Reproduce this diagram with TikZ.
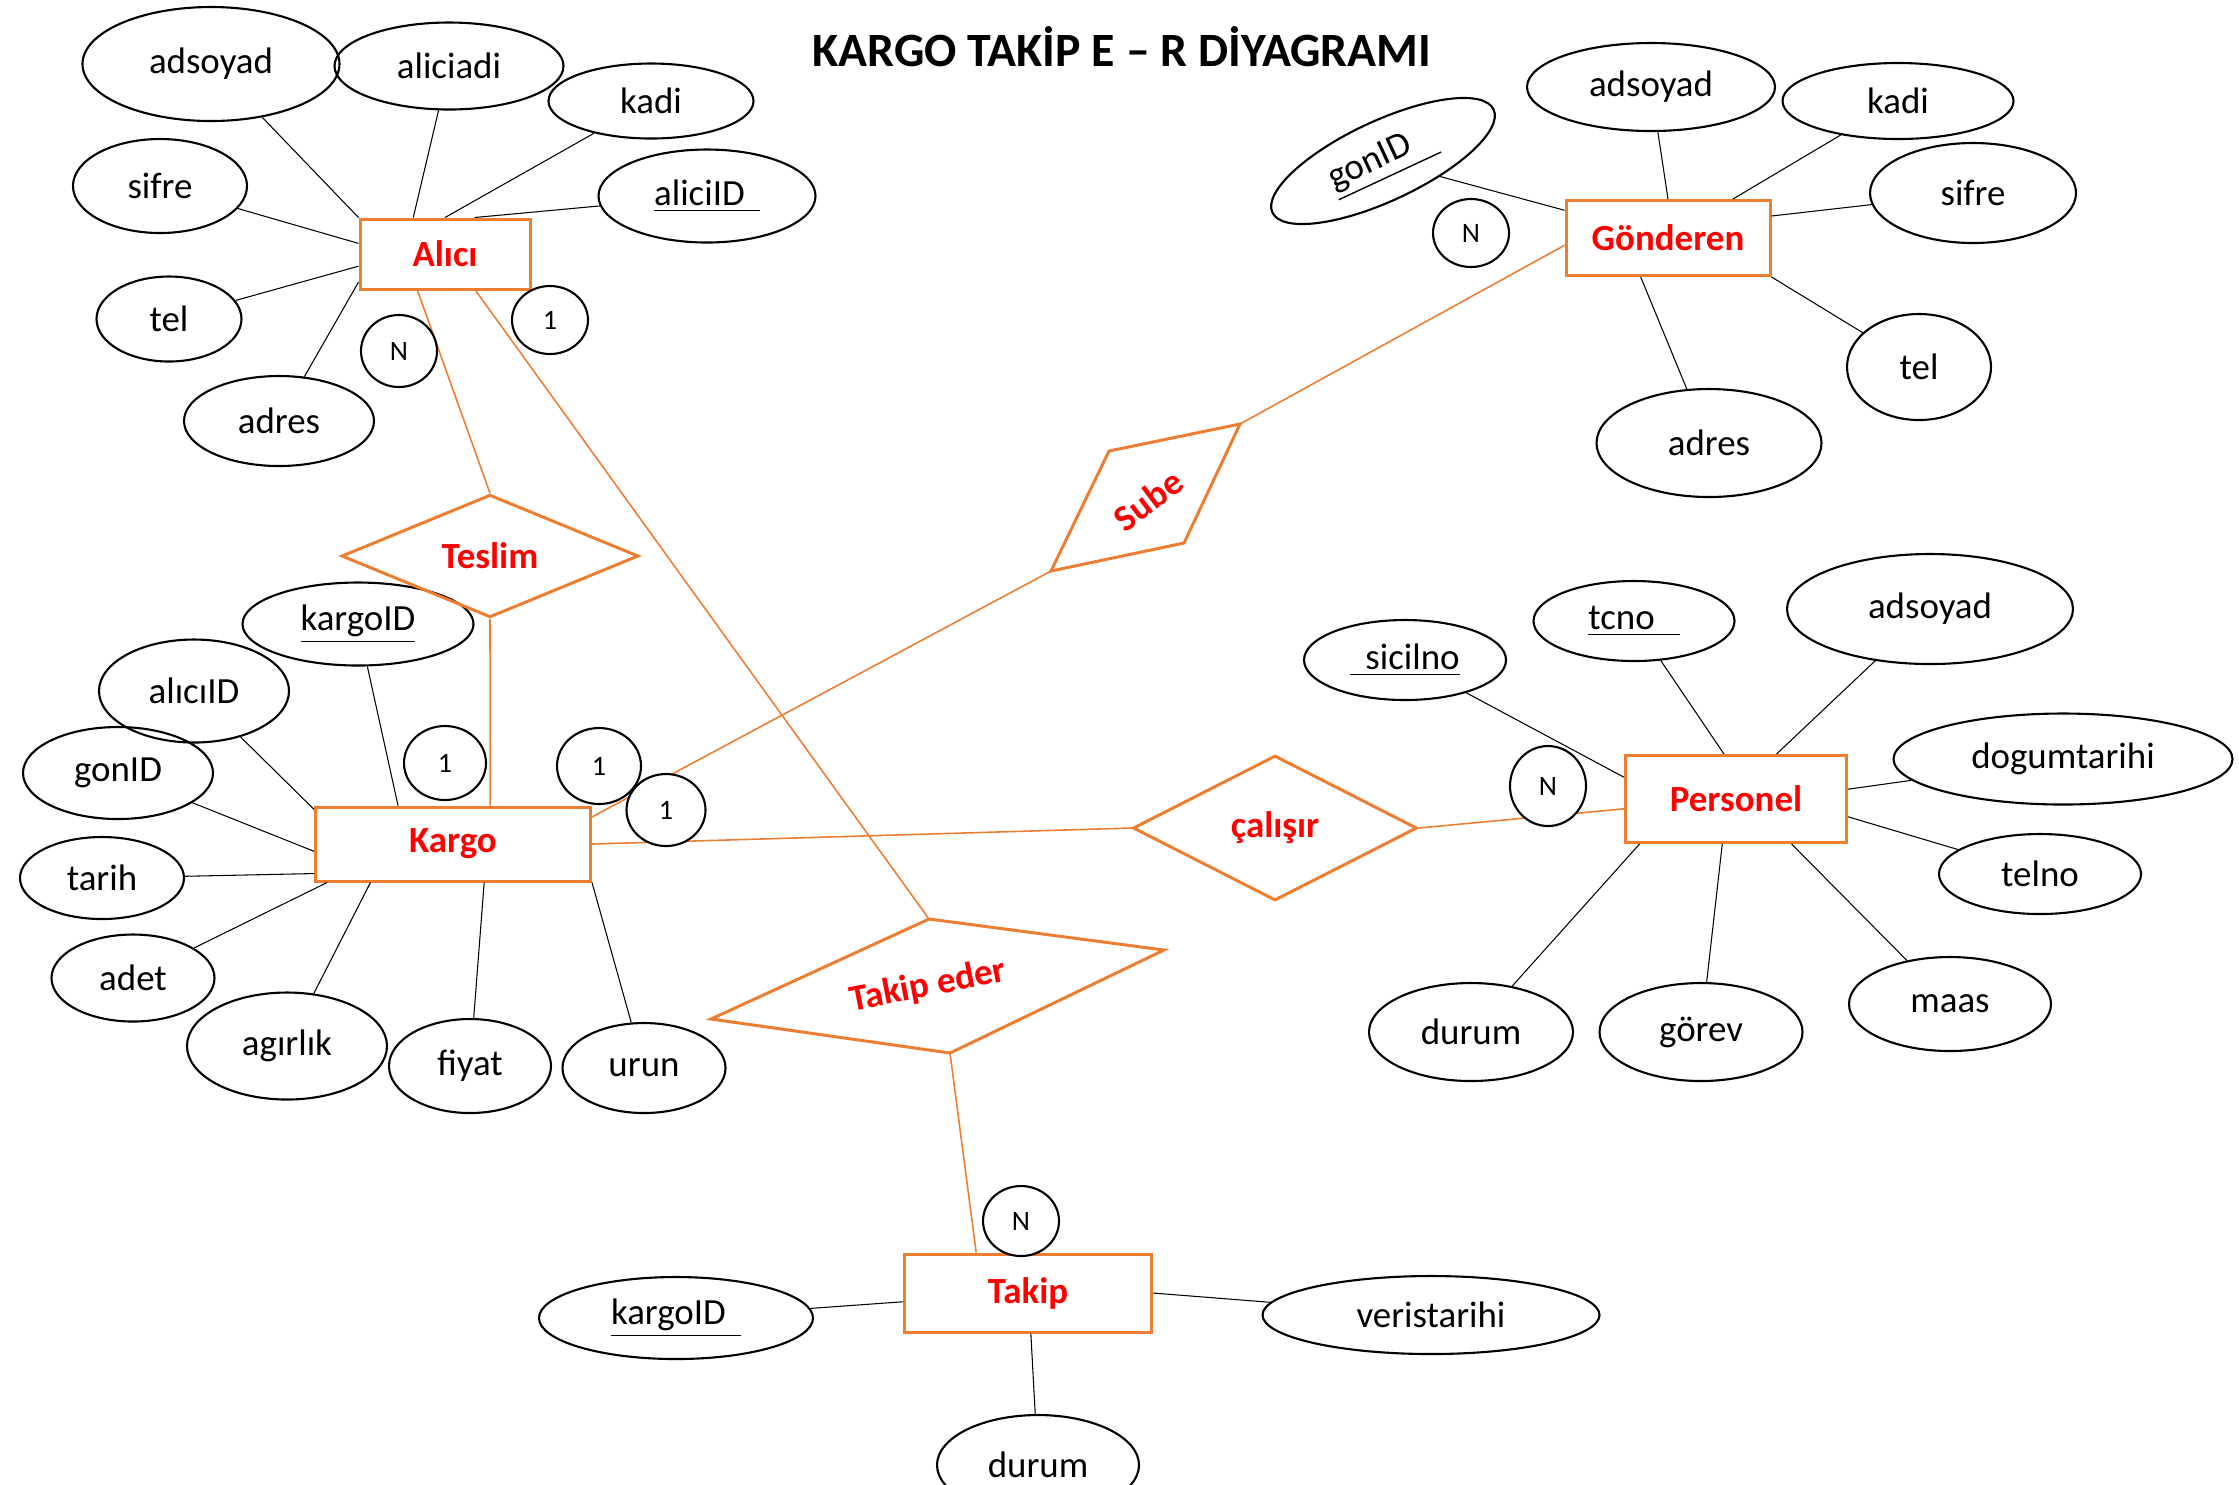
\documentclass[tikz,border=0pt]{standalone}
\usepackage{fontspec}
\setmainfont{Carlito}
\usetikzlibrary{shapes.geometric}
\definecolor{erorange}{HTML}{ED7D31}
\definecolor{erred}{HTML}{FF0000}
\newcommand{\erfont}{\fontsize{10.5}{12.6}\selectfont}

\begin{document}
\begin{tikzpicture}[x=0.1mm, y=-0.1mm,
  att/.style 2 args={ellipse, draw, line width=0.6pt, inner sep=0pt, minimum width=#1mm, minimum height=#2mm, font=\erfont},
  card/.style={ellipse, draw, fill=white, line width=0.6pt, inner sep=0pt, minimum width=7.6mm, minimum height=7.2mm, font=\fontsize{8}{9}\selectfont},
  ent/.style 2 args={rectangle, draw=erorange, line width=0.85pt, inner sep=0pt, minimum width=#1mm, minimum height=#2mm, text=erred, font=\bfseries\erfont},
  rel/.style 2 args={diamond, draw=erorange, line width=0.85pt, inner sep=0pt, minimum width=#1mm, minimum height=#2mm, text=erred, font=\bfseries\erfont},
  reltext/.style={inner sep=0pt, text=erred, font=\bfseries\erfont},
  link/.style={line width=0.3pt},
  rlink/.style={draw=erorange, line width=0.45pt},
  relbox/.style={draw=erorange, line width=0.85pt, line join=miter}]
\useasboundingbox (0,0) rectangle (2239,1484);
\clip (0,0) rectangle (2239,1484);
\node[font=\bfseries\fontsize{13.6}{16}\selectfont] (title) at (1122,47) {KARGO TAKİP E – R DİYAGRAMI};

\node[ent={17}{7}] (alici) at (445,254) {Alıcı};
\node[att={25.7}{11.4}] (aadsoyad) at (211,64) {adsoyad};
\node[att={22.9}{8.7}] (aaliciadi) at (449,66) {aliciadi};
\node[att={20.5}{7.5}] (akadi) at (651,101) {kadi};
\node[att={21.7}{9.3}] (aaliciid) at (707,196) {\underline{aliciID\hspace{1.5mm}}};
\node[att={17.4}{9.4}] (asifre) at (160,186) {sifre};
\node[att={14.5}{8.5}] (atel) at (169,319) {tel};
\node[att={19}{9}] (aadres) at (279,421) {adres};

\node[ent={20.4}{7.5}] (gonderen) at (1668,238) {Gönderen};
\node[att={24.4}{8}, rotate=25] (ggonid) at (1383,161) {\underline{gonID\hspace{2.5mm}}};
\node[att={24.8}{8.8}] (gadsoyad) at (1651,87) {adsoyad};
\node[att={23.1}{7.6}] (gkadi) at (1898,101) {kadi};
\node[att={20.6}{10}] (gsifre) at (1973,193) {sifre};
\node[att={14.4}{10.6}] (gtel) at (1919,367) {tel};
\node[att={22.5}{10.8}] (gadres) at (1709,443) {adres};

\node[ent={27.5}{7.4}] (kargo) at (453,844) {Kargo};
\node[att={23.1}{8.3}] (kkargoid) at (358,624) {\underline{kargoID}};
\node[att={19}{10.3}] (kaliciid) at (194,691) {alıcıID};
\node[att={19}{9.2}] (kgonid) at (118,773) {gonID};
\node[att={16.4}{8.2}] (ktarih) at (102,878) {tarih};
\node[att={16.3}{8.7}] (kadet) at (133,978) {adet};
\node[att={20}{10.7}] (kagirlik) at (287,1046) {agırlık};
\node[att={16.2}{9.4}] (kfiyat) at (470,1066) {fiyat};
\node[att={16.3}{9}] (kurun) at (644,1068) {urun};

\node[ent={22.1}{8.7}] (personel) at (1736,799) {Personel};
\node[att={20.2}{8}] (psicilno) at (1405,660) {\underline{\hspace{1.5mm}sicilno}};
\node[att={20.1}{8}] (ptcno) at (1634,621) {\underline{tcno\hspace{2.5mm}}};
\node[att={28.6}{11}] (padsoyad) at (1930,609) {adsoyad};
\node[att={33.9}{9.1}] (pdogum) at (2063,759) {dogumtarihi};
\node[att={20.2}{8}] (ptelno) at (2040,874) {telno};
\node[att={20.2}{9.4}] (pmaas) at (1950,1004) {maas};
\node[att={20.3}{9.8}] (pgorev) at (1701,1032) {görev};
\node[att={20.4}{9.8}] (pdurum) at (1471,1032) {durum};

\node[ent={24.7}{7.8}] (takip) at (1028,1293) {Takip};
\node[att={27.4}{8.2}] (tkargoid) at (676,1318) {\underline{kargoID\hspace{1.5mm}}};
\node[att={33.7}{7.8}] (tveri) at (1431,1315) {veristarihi};
\node[att={20.2}{10}] (tdurum) at (1038,1465) {durum};

\node[rel={29.7}{11.7}] (teslim) at (490,556) {Teslim};
\node[rel={28.4}{14.5}] (calisir) at (1275,828) {çalışır};
\coordinate (sube1) at (1240,424);
\coordinate (sube2) at (1184,543);
\coordinate (sube3) at (1051,571);
\coordinate (sube4) at (1109,451);
\draw[relbox] (sube1) -- (sube2) -- (sube3) -- (sube4) -- cycle;
\node[reltext, rotate=37] (sube) at (1148,500) {Sube};
\coordinate (eder1) at (929,919);
\coordinate (eder2) at (1164,950);
\coordinate (eder3) at (950,1053);
\coordinate (eder4) at (711,1019);
\draw[relbox] (eder1) -- (eder2) -- (eder3) -- (eder4) -- cycle;
\node[reltext, rotate=11] (takipeder) at (928,986) {Takip eder};

\draw[link] (aadsoyad) -- (alici.north west);
\draw[link] (aaliciadi) -- (alici.131);
\draw[link] (akadi) -- (alici.north);
\draw[link] (aaliciid) -- (alici.51);
\draw[link] (asifre) -- (alici.173);
\draw[link] (atel) -- (alici.188);
\draw[link] (aadres) -- (alici.198);

\draw[link] (ggonid) -- (gonderen.165);
\draw[link] (gadsoyad) -- (gonderen.north);
\draw[link] (gkadi) -- (gonderen.31);
\draw[link] (gsifre) -- (gonderen.12);
\draw[link] (gtel) -- (gonderen.south east);
\draw[link] (gadres) -- (gonderen.235);

\draw[link] (kkargoid) -- (kargo.145);
\draw[link] (kaliciid) -- (kargo.166);
\draw[link] (kgonid) -- (kargo.183);
\draw[link] (ktarih) -- (kargo.192);
\draw[link] (kadet) -- (kargo.197);
\draw[link] (kagirlik) -- (kargo.205);
\draw[link] (kfiyat) -- (kargo.-51);
\draw[link] (kurun) -- (kargo.south east);

\draw[link] (psicilno) -- (personel.169);
\draw[link] (ptcno) -- (personel.105);
\draw[link] (padsoyad) -- (personel.48);
\draw[link] (pdogum) -- (personel.5);
\draw[link] (ptelno) -- (personel.-9);
\draw[link] (pmaas) -- (personel.-39);
\draw[link] (pgorev) -- (personel.-107);
\draw[link] (pdurum) -- (personel.205);

\draw[link] (tkargoid) -- (takip.184);
\draw[link] (tveri) -- (takip.east);
\draw[link] (tdurum) -- (takip.-86);

\draw[rlink] (alici.233) -- (teslim.north);
\draw[rlink] (teslim.south) -- (kargo.46);
\draw[rlink] (alici.310) -- (eder1);
\draw[rlink] (kargo.11) -- (sube3);
\draw[rlink] (sube1) -- (gonderen.184);
\draw[rlink] (kargo.east) -- (calisir.west);
\draw[rlink] (calisir.east) -- (personel.185);
\draw[rlink] (eder3) -- (takip.142);

\node[card] (alicin) at (399,351) {N};
\node[card, minimum height=6.8mm] (alici1) at (550,320) {1};
\node[card, minimum height=6.8mm] (gonderenn) at (1471,233) {N};
\node[card, minimum width=8.2mm, minimum height=7.4mm] (kargo1a) at (445,763) {1};
\node[card, minimum width=8.4mm, minimum height=7.6mm] (kargo1b) at (599,766) {1};
\node[card, minimum width=7.9mm] (kargo1c) at (666,810) {1};
\node[card, minimum height=8mm] (personeln) at (1548,786) {N};
\node[card, minimum height=7mm] (takipn) at (1021,1221) {N};
\end{tikzpicture}
\end{document}
